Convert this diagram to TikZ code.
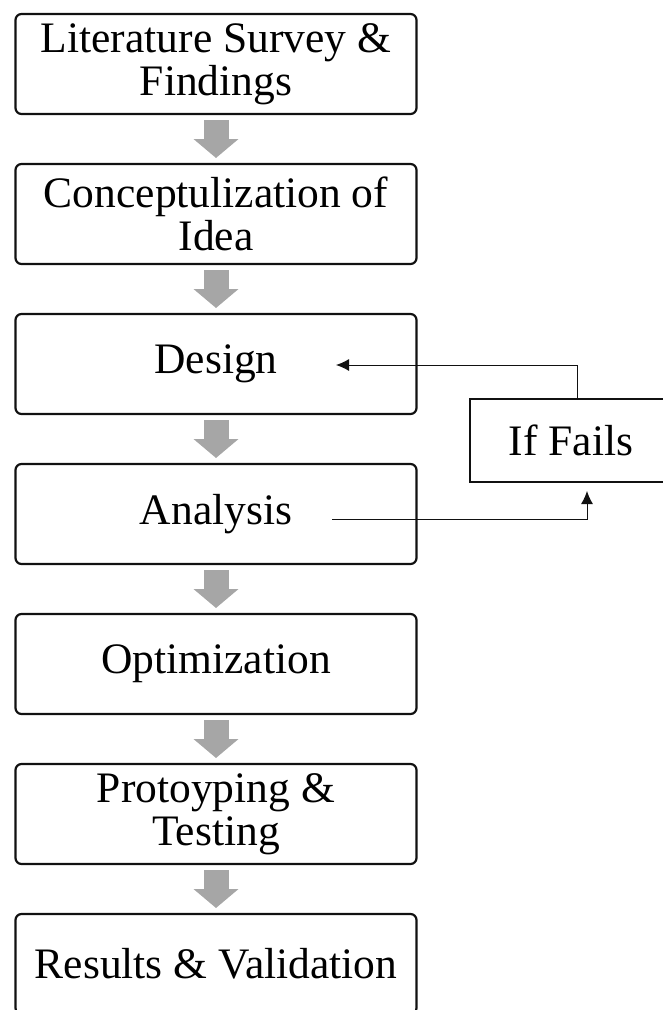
\documentclass[tikz,border=0pt]{standalone}
\usepackage{fontspec}
\setmainfont{Liberation Serif}
\usetikzlibrary{arrows.meta,positioning}
\definecolor{stepgray}{HTML}{A6A6A6}
\definecolor{stepdark}{HTML}{111111}
\tikzset{
  box/.style={rounded corners=6pt,draw=stepdark,line width=2.2pt,outer sep=0pt,align=center,inner sep=0pt,minimum width=401pt,minimum height=100pt,font=\fontsize{43.5}{43}\selectfont},
  failbox/.style={box,sharp corners,minimum width=202pt,minimum height=83pt},
  flow/.style={draw=stepgray,line width=25pt,-{Triangle[length=19pt,width=44pt]},shorten <=6pt,shorten >=6pt},
  ar/.style={-{Latex[length=13pt,width=12pt]},draw=stepdark,line width=1pt},
}

\begin{document}
\begin{tikzpicture}[x=1pt,y=-1pt]
  \useasboundingbox (0,0) rectangle (662,1010);
  % main column of steps
  \node[box] (lit) at (216,64) {Literature Survey \&\\Findings};
  \node[box,below=50pt of lit] (con) {Conceptulization of\\Idea};
  \node[box,below=50pt of con] (des) {Design};
  \node[box,below=50pt of des] (ana) {Analysis};
  \node[box,below=50pt of ana] (opt) {Optimization};
  \node[box,below=50pt of opt] (pro) {Protoyping \&\\Testing};
  \node[box,below=50pt of pro] (res) {Results \& Validation};
  \foreach \a/\b in {lit/con,con/des,des/ana,ana/opt,opt/pro,pro/res}
    \draw[flow] (\a.south) -- (\b.north);
  % feedback loop
  \node[failbox] (fail) at (571,440.5) {If Fails};
  \coordinate (anaEnd) at (332,519);
  \coordinate (desEnd) at (336,365);
  \draw[ar,shorten >=9pt] (anaEnd) -| ([xshift=16pt]fail.south);
  \draw[ar] ([xshift=6pt]fail.north) |- (desEnd);
\end{tikzpicture}
\end{document}
